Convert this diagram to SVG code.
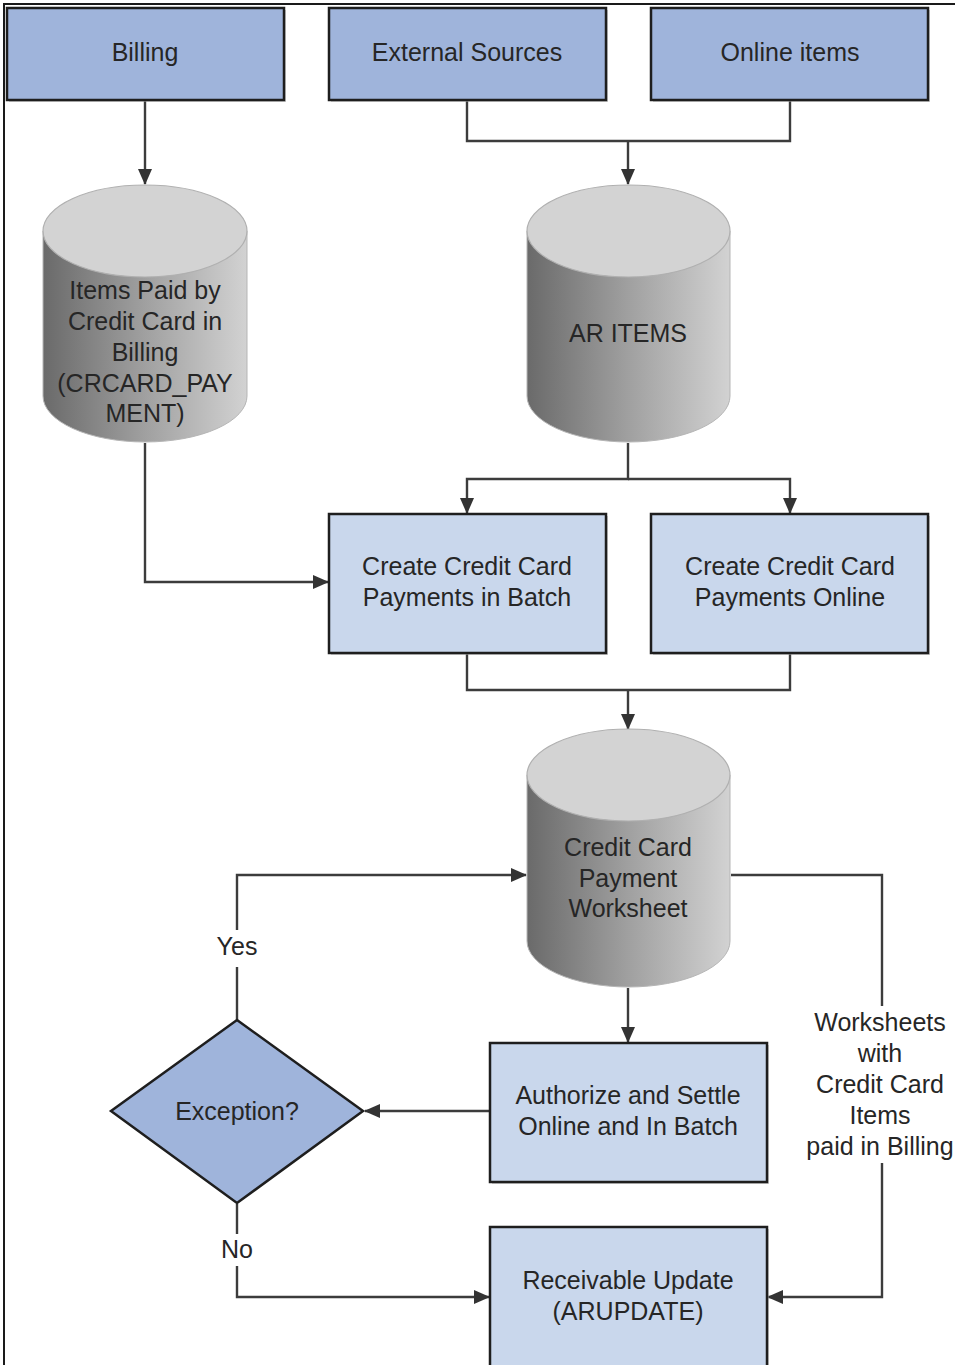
<svg xmlns="http://www.w3.org/2000/svg" width="955" height="1365" viewBox="0 0 955 1365">
<style>
text{font-family:"Liberation Sans",Arial,sans-serif;font-size:25px;fill:#262626;text-anchor:middle}
.dark{fill:#9fb4db;stroke:#1e1e1e;stroke-width:2.5}
.light{fill:#c9d7ec;stroke:#1e1e1e;stroke-width:2.5}
.shadow{fill:#b0b0b0;opacity:0.6}
.side{fill:url(#cylGrad);stroke:#b5b5b5;stroke-width:1}
.top{fill:#d3d3d3;stroke:#b0b0b0;stroke-width:1.2}
.conn{fill:none;stroke:#3c3c3c;stroke-width:2.4}
</style>
<defs>
<linearGradient id="cylGrad" x1="0" y1="0" x2="1" y2="0">
<stop offset="0" stop-color="#6a6a6a"/>
<stop offset="0.5" stop-color="#a0a0a0"/>
<stop offset="1" stop-color="#d2d2d2"/>
</linearGradient>
<marker id="arr" markerWidth="16" markerHeight="16" viewBox="0 0 16 16" refX="15" refY="8" orient="auto" markerUnits="userSpaceOnUse">
<path d="M0,1 L16,8 L0,15 Z" fill="#333"/>
</marker>
</defs>
<rect x="0" y="0" width="955" height="1365" fill="#fff"/>
<path d="M4,1365 V4 H955" fill="none" stroke="#1a1a1a" stroke-width="2"/>

<g id="connectors">
<path class="conn" d="M145,101 V184" marker-end="url(#arr)"/>
<path class="conn" d="M467,101 V141 H790 V101"/>
<path class="conn" d="M628,141 V184" marker-end="url(#arr)"/>
<path class="conn" d="M145,443 V582 H328" marker-end="url(#arr)"/>
<path class="conn" d="M628,443 V479 H467 V513" marker-end="url(#arr)"/>
<path class="conn" d="M628,479 H790 V513" marker-end="url(#arr)"/>
<path class="conn" d="M467,654 V690 H790 V654"/>
<path class="conn" d="M628,690 V729" marker-end="url(#arr)"/>
<path class="conn" d="M628,988 V1042" marker-end="url(#arr)"/>
<path class="conn" d="M489,1111 H365" marker-end="url(#arr)"/>
<path class="conn" d="M237,1020 V967"/>
<path class="conn" d="M237,930 V875 H526" marker-end="url(#arr)"/>
<path class="conn" d="M237,1204 V1234"/>
<path class="conn" d="M237,1266 V1297 H489" marker-end="url(#arr)"/>
<path class="conn" d="M731,875 H882 V1006"/>
<path class="conn" d="M882,1163 V1297 H768" marker-end="url(#arr)"/>
<text x="237" y="955">Yes</text>
<text x="237" y="1258">No</text>
<text x="880" y="1031">Worksheets</text>
<text x="880" y="1062">with</text>
<text x="880" y="1093">Credit Card</text>
<text x="880" y="1124">Items</text>
<text x="880" y="1155">paid in Billing</text>
</g>

<g id="billing">
<rect class="shadow" x="9" y="10" width="277" height="92"/>
<rect class="dark" x="7" y="8" width="277" height="92"/>
<text x="145" y="61">Billing</text>
</g>
<g id="external-sources">
<rect class="shadow" x="331" y="10" width="277" height="92"/>
<rect class="dark" x="329" y="8" width="277" height="92"/>
<text x="467" y="61">External Sources</text>
</g>
<g id="online-items">
<rect class="shadow" x="653" y="10" width="277" height="92"/>
<rect class="dark" x="651" y="8" width="277" height="92"/>
<text x="790" y="61">Online items</text>
</g>

<g id="items-paid-cylinder">
<path class="side" d="M43,231 V396 A102,46 0 0 0 247,396 V231 Z"/>
<ellipse class="top" cx="145" cy="231" rx="102" ry="46"/>
<text x="145" y="299">Items Paid by</text>
<text x="145" y="330">Credit Card in</text>
<text x="145" y="361">Billing</text>
<text x="145" y="392">(CRCARD_PAY</text>
<text x="145" y="422">MENT)</text>
</g>

<g id="ar-items">
<path class="side" d="M527,231 V396 A101.5,46 0 0 0 730,396 V231 Z"/>
<ellipse class="top" cx="628.5" cy="231" rx="101.5" ry="46"/>
<text x="628" y="342">AR ITEMS</text>
</g>

<g id="batch">
<rect class="shadow" x="331" y="516" width="277" height="139"/>
<rect class="light" x="329" y="514" width="277" height="139"/>
<text x="467" y="575">Create Credit Card</text>
<text x="467" y="606">Payments in Batch</text>
</g>
<g id="online">
<rect class="shadow" x="653" y="516" width="277" height="139"/>
<rect class="light" x="651" y="514" width="277" height="139"/>
<text x="790" y="575">Create Credit Card</text>
<text x="790" y="606">Payments Online</text>
</g>

<g id="worksheet">
<path class="side" d="M527,775 V941 A101.5,46 0 0 0 730,941 V775 Z"/>
<ellipse class="top" cx="628.5" cy="775" rx="101.5" ry="46"/>
<text x="628" y="856">Credit Card</text>
<text x="628" y="887">Payment</text>
<text x="628" y="917">Worksheet</text>
</g>

<g id="authorize">
<rect class="shadow" x="492" y="1045" width="277" height="139"/>
<rect class="light" x="490" y="1043" width="277" height="139"/>
<text x="628" y="1104">Authorize and Settle</text>
<text x="628" y="1135">Online and In Batch</text>
</g>

<g id="exception">
<polygon class="dark" points="237,1020 363,1111 237,1203 111,1111"/>
<text x="237" y="1120">Exception?</text>
</g>

<g id="receivable-update">
<rect class="shadow" x="492" y="1229" width="277" height="140"/>
<rect class="light" x="490" y="1227" width="277" height="140"/>
<text x="628" y="1289">Receivable Update</text>
<text x="628" y="1320">(ARUPDATE)</text>
</g>
</svg>
